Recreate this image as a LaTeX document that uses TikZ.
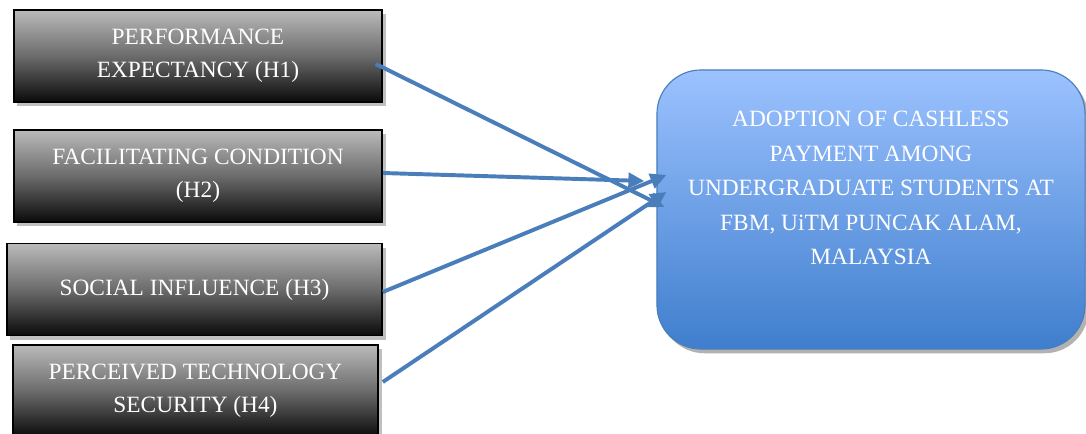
\documentclass[tikz,border=0pt]{standalone}
\usepackage{fontspec}
\setmainfont{Liberation Serif}
\usepackage{xcolor}
\usetikzlibrary{arrows.meta,shadows}

\definecolor{linkblue}{HTML}{4A7EBB}
\definecolor{adopttop}{HTML}{9CC2FF}
\definecolor{adoptbot}{HTML}{3F7ECD}

\begin{document}
\begin{tikzpicture}[x=0.025cm, y=-0.025cm,
	factor/.style={draw=black, line width=1.1pt, top color=black!27, bottom color=black!96, middle color=black!58,
		text=white, align=center, minimum height=2.3cm, inner sep=0pt,
		font=\fontsize{16.6}{23.5}\selectfont,
		drop shadow={shadow xshift=2.5pt, shadow yshift=-3pt, fill=black, opacity=0.25}},
	outcome/.style={draw=linkblue, line width=0.8pt, top color=adopttop, bottom color=adoptbot,
		rounded corners=1.1cm, minimum width=10.7cm, minimum height=6.975cm, inner sep=0pt,
		drop shadow={shadow xshift=2.5pt, shadow yshift=-3pt, fill=black, opacity=0.3}},
	link/.style={draw=linkblue, line width=2.8pt, -{Triangle[length=0.4cm, width=0.38cm]}}]
	\clip (0,0) rectangle (1086,434);

	% the four factors
	\node[factor, minimum width=9.2cm] (pe) at (198,56) {PERFORMANCE\\EXPECTANCY (H1)};
	\node[factor, minimum width=9.2cm] (fc) at (198,176) {FACILITATING CONDITION\\(H2)};
	\node[factor, minimum width=9.375cm] (si) at (194.5,289.5) {SOCIAL INFLUENCE (H3)};
	\node[factor, minimum width=9.125cm] (pts) at (195.5,391) {PERCEIVED TECHNOLOGY\\SECURITY (H4)};

	% dependent variable
	\node[outcome] (adopt) at (871,209.5) {};
	\node[text=white, align=center, font=\fontsize{16.6}{24.5}\selectfont] (adoptlbl) at (871,188)
		{ADOPTION OF CASHLESS\\PAYMENT AMONG\\UNDERGRADUATE STUDENTS AT\\FBM, UiTM PUNCAK ALAM,\\MALAYSIA};

	% hypotheses
	\draw[link] ([shift={(-7,8)}]pe.east) -- ([shift={(8,-2.5)}]adopt.west);
	\draw[link] ([shift={(0,-3)}]fc.east) -- ([shift={(-12,-28.5)}]adopt.west);
	\draw[link] ([shift={(0,2.5)}]si.east) -- ([shift={(10,-34.5)}]adopt.west);
	\draw[link] ([shift={(4,-9)}]pts.east) -- ([shift={(10,-17.5)}]adopt.west);
\end{tikzpicture}
\end{document}
